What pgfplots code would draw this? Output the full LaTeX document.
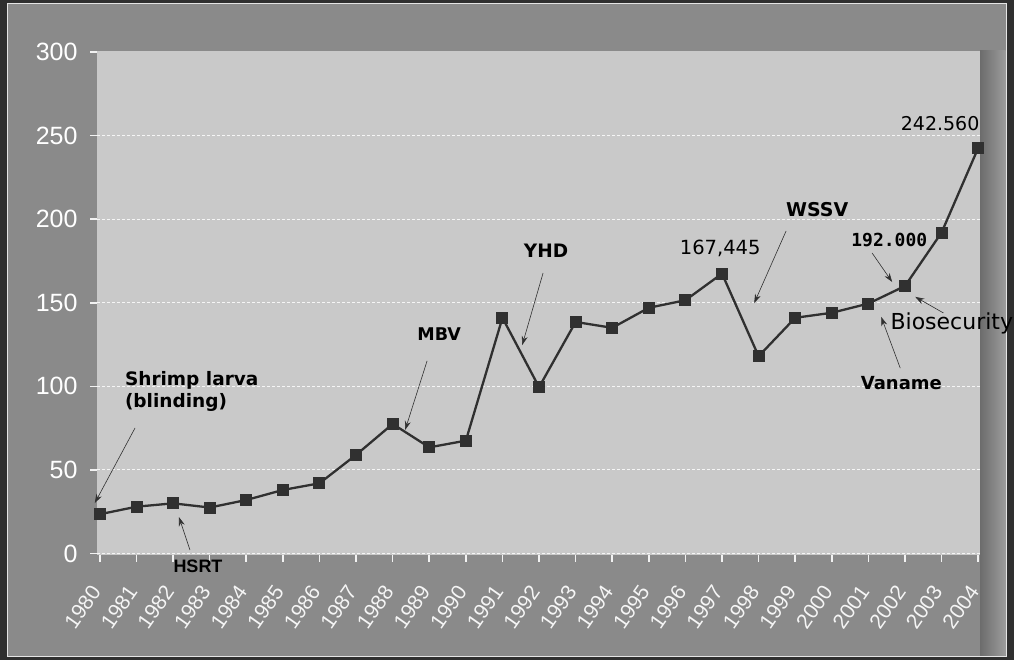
\documentclass[border=0pt]{standalone}
\usepackage{fontspec}
\setmainfont{Liberation Sans}
\newfontfamily\annfont{DejaVu Sans}
\newfontfamily\annmono{DejaVu Sans Mono}
\usepackage{pgfplots}
\pgfplotsset{compat=1.18}
\usetikzlibrary{arrows.meta}

\definecolor{frameGray}{HTML}{8A8A8A}
\definecolor{plotGray}{HTML}{C9C9C9}
\definecolor{outerDark}{HTML}{2F2F2F}
\definecolor{lineDark}{HTML}{303030}
\definecolor{stripDark}{HTML}{6C6C6C}
\definecolor{stripLight}{HTML}{9C9C9C}

% shrimp production (thousand tonnes)
\pgfplotstableread{
year value
1980 23.5
1981 28
1982 30
1983 27.5
1984 32
1985 38
1986 42
1987 59
1988 77.5
1989 63.5
1990 67.5
1991 141
1992 99.5
1993 138.5
1994 135
1995 147
1996 151.5
1997 167.445
1998 118
1999 141
2000 144
2001 149.5
2002 160
2003 192
2004 242.56
}\production

\tikzset{ann/.style={-{Stealth[length=9pt,width=6pt]}, lineDark, line width=0.6pt}}

\begin{document}
\begin{tikzpicture}
% outer frame
\fill[outerDark] (0pt,0pt) rectangle (1014pt,660pt);
\fill[frameGray] (8pt,4pt) rectangle (1006pt,656pt);
\draw[white!80!gray, line width=1pt] (7.5pt,3.5pt) rectangle (1006.5pt,656.5pt);
% shaded strip on the right of the plot area
\shade[left color=stripDark, right color=stripLight] (980pt,4pt) rectangle (1005.5pt,609pt);

\begin{axis}[
  at={(97pt,105pt)}, anchor=south west,
  scale only axis, width=883pt, height=504pt,
  xmin=1979.92, xmax=2004.05, ymin=-0.9, ymax=300.6,
  axis background/.style={fill=plotGray},
  axis line style={draw=none},
  xtick={1980,...,2004}, ytick={0,50,...,250},
  extra y ticks={300}, extra y tick style={grid=none},
  xtick pos=bottom, ytick pos=left,
  tick align=outside, major tick length=7pt,
  major tick style={white!90!gray, line width=1.6pt},
  ymajorgrids,
  grid style={white!92!gray, line width=0.9pt, dash pattern=on 3pt off 2pt},
  /pgf/number format/assume math mode=true,
  /pgf/number format/1000 sep={},
  yticklabel style={font=\fontsize{25}{25}\selectfont, text=white, xshift=-9pt},
  xticklabel style={font=\fontsize{21}{21}\selectfont, text=white!92!gray,
    xshift=-2pt, yshift=-23pt, rotate=55, anchor=east},
  clip=false,
]
\addplot[lineDark, line width=2.3pt, mark=square*, mark size=5.5pt,
  mark options={fill=lineDark, draw=lineDark, line width=0pt}]
  table[x=year, y=value] {\production};

% event labels
\node[font=\annfont\bfseries\fontsize{18.5}{22}\selectfont, align=left, anchor=west, inner sep=0pt]
  at (axis cs:1980.68,97.2) {Shrimp larva\\(blinding)};
\draw[ann] (axis cs:1980.96,75.1) -- (axis cs:1979.86,30.2);

\node[font=\bfseries\fontsize{18}{20}\selectfont] at (axis cs:1982.68,-7.5) {HSRT};
\draw[ann] (axis cs:1982.46,2.1) -- (axis cs:1982.16,21.8);

\node[font=\annfont\bfseries\fontsize{17.5}{20}\selectfont] at (axis cs:1989.27,131.3) {MBV};
\draw[ann] (axis cs:1988.94,115.2) -- (axis cs:1988.34,73.9);

\node[font=\annfont\bfseries\fontsize{18.5}{20}\selectfont] at (axis cs:1992.19,181) {YHD};
\draw[ann] (axis cs:1992.11,167.8) -- (axis cs:1991.54,124.7);

\node[font=\annfont\fontsize{19.5}{22}\selectfont] at (axis cs:1996.95,182.7) {167,445};

\node[font=\annfont\bfseries\fontsize{19}{22}\selectfont] at (axis cs:1999.6,206) {WSSV};
\draw[ann] (axis cs:1998.75,192.9) -- (axis cs:1997.88,149.8);

\node[font=\annmono\bfseries\fontsize{18}{20}\selectfont] at (axis cs:2001.57,187.5) {192.000};
\draw[ann] (axis cs:2001.1,179.8) -- (axis cs:2001.65,162.4);

\node[font=\annfont\fontsize{22}{24}\selectfont, anchor=west, inner sep=0pt]
  at (axis cs:2001.6,137.9) {Biosecurity};
\draw[ann] (axis cs:2003.05,143.9) -- (axis cs:2002.28,153.5);

\node[font=\annfont\bfseries\fontsize{18}{20}\selectfont] at (axis cs:2001.9,102) {Vaname};
\draw[ann] (axis cs:2001.87,110.9) -- (axis cs:2001.35,141.5);

\node[font=\annfont\fontsize{19}{22}\selectfont] at (axis cs:2002.96,256.9) {242.560};
\end{axis}

\pgfresetboundingbox
\path[use as bounding box] (0pt,0pt) rectangle (1014pt,660pt);
\end{tikzpicture}
\end{document}
